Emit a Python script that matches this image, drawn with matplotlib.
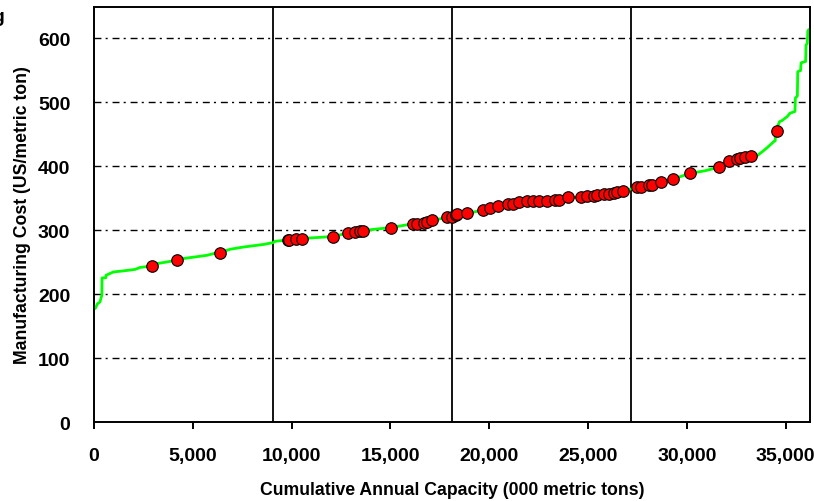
import matplotlib
matplotlib.use("Agg")
import matplotlib.pyplot as plt

plt.rcParams['font.family'] = ['Liberation Sans', 'DejaVu Sans']
plt.rcParams['font.weight'] = 'bold'

# Cost curve (cumulative capacity, 000 metric tons -> US$/metric ton)
curve_cap = [0, 66, 170, 300, 390, 400, 405, 600, 608, 980, 1485, 2077, 2330, 2923, 3176,
             4188, 4525, 5707, 6215, 6383, 6890, 7564, 8577, 9084, 9170, 9843,
             10233, 10522, 12073, 12833, 13223, 13612, 15031, 16146, 16683,
             17108, 17868, 18339, 18881, 19672, 20026, 20452, 20938, 21496,
             21921, 22934, 23355, 23978, 24672, 25295, 25801, 26308, 26764,
             27100, 27493, 28081, 28709, 29282, 30158, 30900, 31648, 32155,
             32690, 33268, 33572, 33825, 34078, 34413, 34480, 34500, 34700,
             34839, 35092, 35220, 35480, 35500, 35600, 35620, 35765, 35790,
             36018, 36040, 36102, 36130, 36183, 36203]
curve_cost = [177.6, 178, 185, 188, 198, 200, 225.7, 226, 229.8, 235, 236.7, 239, 242, 244.4, 248,
              253.3, 256, 261, 265, 265.4, 270.5, 274, 278, 281, 283, 285,
              286.8, 287.3, 290.4, 295.6, 297.8, 299.8, 304.5, 310.3, 311.9,
              315.5, 320.2, 323.8, 326.5, 331.7, 335.4, 338.6, 340.6, 344.8,
              345.8, 345.8, 348, 351.6, 352, 354.2, 356.3, 358.3, 362,
              364, 368.3, 370.8, 375, 379.8, 389.2, 393, 399, 408.5,
              412.7, 416.3, 417, 423, 429.5, 438.9, 440, 455, 470,
              472, 478, 483, 486, 507, 510, 548, 550, 562,
              564, 590, 592, 612, 614, 614]

# Highlighted plants
dot_cap = [2923, 4188, 6383, 9843, 9895, 10233, 10522, 12073, 12833, 13223,
           13440, 13612, 15031, 16146, 16348, 16683, 16855, 17108, 17868,
           18121, 18339, 18374, 18881, 19672, 20026, 20452, 20938, 21212,
           21496, 21921, 22225, 22509, 22934, 23355, 23522, 23978, 24672,
           24961, 25295, 25467, 25801, 26054, 26308, 26480, 26764, 27493,
           27696, 28081, 28253, 28709, 29282, 30158, 31648, 32155, 32523,
           32690, 32929, 33268, 34550]
dot_cost = [244.4, 253.3, 265.4, 285, 285.7, 286.8, 287.3, 290.4, 295.6, 297.8,
            298.8, 299.8, 304.5, 310.3, 310.3, 311.9, 313.5, 315.5, 320.2,
            320.7, 323.8, 324.9, 326.5, 331.7, 335.4, 338.6, 340.6, 341.1,
            344.8, 345.8, 345.8, 345.8, 345.8, 348, 348, 351.6, 352,
            353, 354.2, 355.2, 356.3, 357.4, 358.3, 359.4, 362, 368.3,
            367.2, 370.8, 370.8, 375, 379.8, 389.2, 399, 408.5, 411.6,
            412.7, 414.7, 416.3, 455.5]

x_ticks = [0, 5000, 10000, 15000, 20000, 25000, 30000, 35000]
y_ticks = [0, 100, 200, 300, 400, 500, 600]
grid_levels = [100, 200, 300, 400, 500, 600]
x_max = 36240
y_max = 650

fig = plt.figure(figsize=(8.14, 5.02), dpi=100)
ax = fig.add_axes([94/814, 1 - 423.3/502, (810-94)/814, (423.3-7.5)/502])

for g in grid_levels:
    ax.axhline(g, color='black', lw=1.0, linestyle=(0, (5, 3, 1.5, 3.5)), zorder=1)
for q in (0.25, 0.5, 0.75):
    ax.axvline(x_max * q, color='black', lw=1.3, zorder=1)

ax.plot(curve_cap, curve_cost, color='#00ff00', lw=2.0, zorder=2)
ax.plot(dot_cap, dot_cost, linestyle='none', marker='o', markersize=8.3,
        markerfacecolor='#ff0000', markeredgecolor='black', markeredgewidth=0.8, zorder=3)

ax.set_xlim(0, x_max)
ax.set_ylim(0, y_max)
ax.set_xticks(x_ticks)
ax.set_xticklabels([f"{v:,}" for v in x_ticks])
ax.set_yticks(y_ticks)
ax.set_yticklabels([str(v) for v in y_ticks])
ax.tick_params(axis='x', direction='out', length=5, width=1.4, pad=13, labelsize=14)
ax.tick_params(axis='y', length=0, pad=17, labelsize=14)
for s in ax.spines.values():
    s.set_linewidth(1.4)
    s.set_color('black')

ax.set_xlabel('Cumulative Annual Capacity (000 metric tons)', fontsize=12.7,
              fontweight='bold', labelpad=12)
ax.set_ylabel('Manufacturing Cost (US/metric ton)', fontsize=12.7,
              fontweight='bold', labelpad=5)

fig.text(4/814, 1 - 22/502, 'g', ha='right', va='baseline', fontsize=14, fontweight='bold')

fig.savefig('out.png', dpi=100)
